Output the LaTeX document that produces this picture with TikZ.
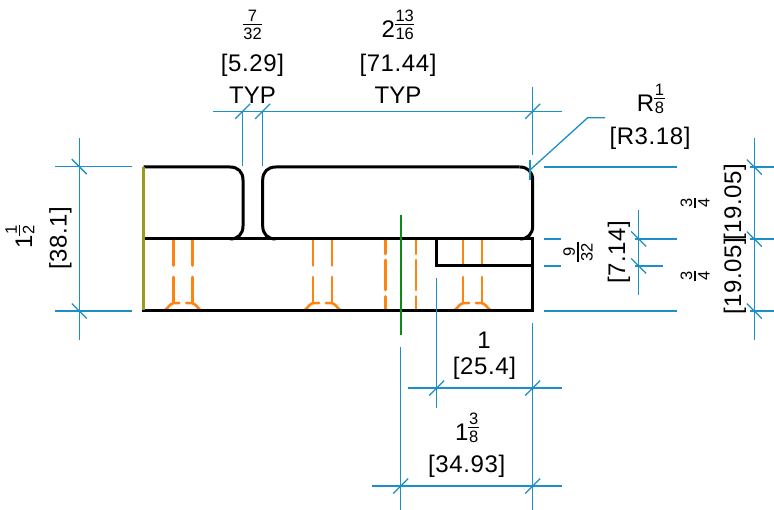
\documentclass[tikz,border=0pt]{standalone}
\usepackage{fontspec}
\setmainfont{Liberation Sans}
\definecolor{dimblue}{HTML}{1B8FC6}
\definecolor{cutorange}{HTML}{FF8310}
\definecolor{olive}{HTML}{9A9A1E}
\definecolor{cgreen}{HTML}{0E8A16}
\newcommand\fsz{\fontsize{24}{26}\selectfont}
\newcommand\fsn{\fontsize{24}{26}\selectfont\addfontfeature{LetterSpace=2.5}}
\newcommand\fsm[1]{\hbox{\kern0.6pt\fontsize{16.5}{17}\selectfont #1\kern0.6pt}}
\newcommand\fr[2]{\raisebox{6pt}{$\vcenter{\offinterlineskip\ialign{\hfil##\hfil\cr\fsm{#1}\cr\noalign{\kern2.3pt\hrule height 1.2pt\kern2.5pt}\fsm{#2}\cr}}$}}
\tikzset{
  x=1pt,y=-1pt,
  dim/.style={draw=dimblue,line width=1.3pt},
  part/.style={draw=black,line width=3pt,line join=miter},
  hid/.style={draw=cutorange,line width=2.6pt,line cap=round},
  lab/.style={inner sep=0pt,font=\fsz,text=black},
  labn/.style={inner sep=0pt,font=\fsn,text=black},
  labr/.style={lab,rotate=90},
  labnr/.style={labn,rotate=90},
}
\begin{document}
\begin{tikzpicture}
\useasboundingbox (0,0) rectangle (774,510);
% hidden lines
\foreach \a/\b in {173.3/192.3,313/332,463/482}{
  \foreach \xx in {\a,\b}{
    \draw[hid] (\xx,240) -- (\xx,265.5);
    \draw[hid] (\xx,277) -- (\xx,303);
  }
  \draw[hid] (\a-8,310) .. controls (\a-5,307.5) and (\a-3,303.5) .. (\a,303.2) -- (\a+6,303);
  \draw[hid] (\b+8,310) .. controls (\b+5,307.5) and (\b+3,303.5) .. (\b,303.2) -- (\b-6,303);
}
\foreach \xx in {385.7,416}{
  \draw[hid] (\xx,240) -- (\xx,254);
  \draw[hid] (\xx,260) -- (\xx,290);
  \draw[hid] (\xx,296.5) -- (\xx,310);
}
% part outline
\draw[part] (143.5,167) -- (230,167) .. controls (238,167) and (243,172) .. (243,180) -- (243,226) .. controls (243,234) and (238,239) .. (230,239);
\draw[part] (519.7,167) -- (275.7,167) .. controls (267.7,167) and (262.7,172) .. (262.7,180) -- (262.7,226) .. controls (262.7,234) and (267.7,239) .. (275.7,239);
\draw[part] (519.7,167) .. controls (527.7,167) and (532.7,172) .. (532.7,180) -- (532.7,226) .. controls (532.7,234) and (527.7,239) .. (519.7,239);
\draw[part] (142.2,239) -- (534,239);
\draw[part] (436.7,239) -- (436.7,266) -- (532.7,266);
\draw[part] (532.7,239) -- (532.7,311) -- (142.2,311);
% colored lines
\draw[olive,line width=2.8pt] (143.5,167) -- (143.5,310);
\draw[cgreen,line width=2.1pt] (400.7,215) -- (400.7,335);
% top dimension
\draw[dim] (213,111.3) -- (561.7,111.3);
\draw[dim] (242.7,111.3) -- (242.7,166);
\draw[dim] (262.7,111.3) -- (262.7,166);
\draw[dim] (532.7,87) -- (532.7,155);
\foreach \xx in {242.7,262.7,532.7}{\draw[dim] (\xx-7.5,111.3+7.5) -- (\xx+7.5,111.3-7.5);}
% radius leader
\draw[dim] (530,170) -- (587.7,117.7) -- (605,117.7);
\draw[dim] (530,160) -- (530,180);
% left dimension
\draw[dim] (79.3,138) -- (79.3,340);
\draw[dim] (55,166.7) -- (132,166.7);
\draw[dim] (55,311) -- (132,311);
\foreach \yy in {166.7,311}{\draw[dim] (79.3-7.5,\yy-7.5) -- (79.3+7.5,\yy+7.5);}
% right extension lines
\draw[dim] (544,167) -- (676.7,167);
\draw[dim] (544,239) -- (561,239);
\draw[dim] (635,239) -- (676.7,239);
\draw[dim] (544,266) -- (561,266);
\draw[dim] (635,266) -- (663,266);
\draw[dim] (544,311) -- (676.7,311);
\draw[dim] (638.7,210) -- (638.7,295);
\foreach \yy in {239,266}{\draw[dim] (638.7-7.5,\yy-7.5) -- (638.7+7.5,\yy+7.5);}
\draw[dim] (754.3,138) -- (754.3,340);
\foreach \yy in {167,239,311}{
  \draw[dim] (750,\yy) -- (774,\yy);
  \draw[dim] (754.3-7.5,\yy-7.5) -- (754.3+7.5,\yy+7.5);
}
% bottom dimensions
\draw[dim] (400.7,346.7) -- (400.7,510);
\draw[dim] (436.7,277.7) -- (436.7,408.3);
\draw[dim] (532.7,322.7) -- (532.7,510);
\draw[dim] (407.7,388) -- (561.7,388);
\draw[dim] (371.7,486) -- (561.7,486);
\foreach \xx in {436.7,532.7}{\draw[dim] (\xx-7.5,388+7.5) -- (\xx+7.5,388-7.5);}
\foreach \xx in {400.7,532.7}{\draw[dim] (\xx-7.5,486+7.5) -- (\xx+7.5,486-7.5);}
% labels
\node[lab] (a1) at (252.5,25) {\fr{7}{32}};
\node[labn] (a2) at (252.5,65) {[5.29]};
\node[lab] (a3) at (252.5,95) {TYP};
\node[lab] (b1) at (398,25) {2\fr{13}{16}};
\node[labn] (b2) at (398,65) {[71.44]};
\node[lab] (b3) at (398,95) {TYP};
\node[lab] (r1) at (650.7,99) {R\fr{1}{8}};
\node[labn] (r2) at (650,138) {[R3.18]};
\node[labr] (l1) at (20,237) {1\fr{1}{2}};
\node[labnr] (l2) at (60.5,238) {[38.1]};
\node[labr] (n1) at (578,252) {\fr{9}{32}};
\node[labnr] (n2) at (619,252) {[7.14]};
\node[labr] (q1) at (695,203) {\fr{3}{4}};
\node[labnr] (q2) at (735,202.5) {[19.05]};
\node[labr] (q3) at (695,276) {\fr{3}{4}};
\node[labnr] (q4) at (735,276.5) {[19.05]};
\node[lab] (c1) at (484,340) {1};
\node[labn] (c2) at (484.5,368) {[25.4]};
\node[lab] (d1) at (467,428) {1\fr{3}{8}};
\node[labn] (d2) at (466.7,466.7) {[34.93]};
\end{tikzpicture}
\end{document}
